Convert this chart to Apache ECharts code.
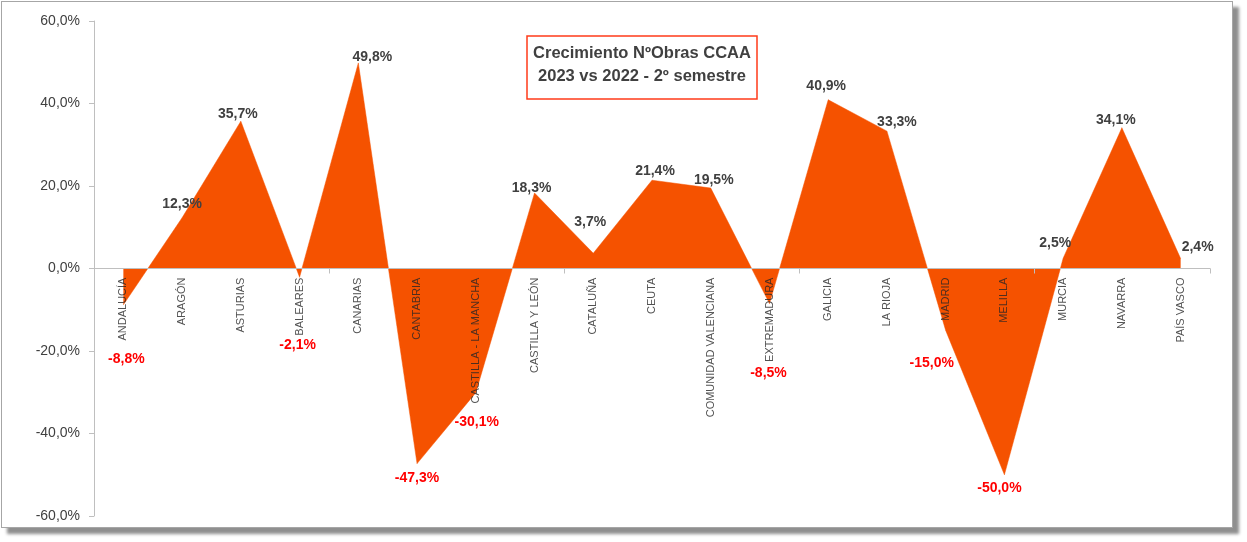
<!DOCTYPE html>
<html>
<head>
<meta charset="utf-8">
<script src="https://cdn.jsdelivr.net/npm/echarts@6/dist/echarts.min.js"></script>
<style>
  html, body { margin: 0; padding: 0; background: #fff; }
  #frame { position: absolute; left: 1px; top: 1px; width: 1230px; height: 525px; border: 1px solid #a6a6a6; background: #fff; box-shadow: 6px 6px 3px #8f8f8f; }
  #chart { position: absolute; left: 0; top: 0; width: 1247px; height: 542px; }
</style>
</head>
<body>
<div id="frame"></div>
<div id="chart"></div>
<script>
const categories = ['ANDALUCÍA','ARAGÓN','ASTURIAS','BALEARES','CANARIAS','CANTABRIA','CASTILLA - LA MANCHA','CASTILLA Y LEÓN','CATALUÑA','CEUTA','COMUNIDAD VALENCIANA','EXTREMADURA','GALICIA','LA RIOJA','MADRID','MELILLA','MURCIA','NAVARRA','PAÍS VASCO'];
const growth = [-8.8, 12.3, 35.7, -2.1, 49.8, -47.3, -30.1, 18.3, 3.7, 21.4, 19.5, -8.5, 40.9, 33.3, -15.0, -50.0, 2.5, 34.1, 2.4];
const yTicks = { min: -60, max: 60, interval: 20 };
const titleLines = ['Crecimiento NºObras CCAA', '2023 vs 2022 - 2º semestre'];

// label placement (style only), offsets in px from each point
const labelOffsets = [[3,54],[0,-14],[-3,-7],[-2,68],[14,-6],[0,15],[1,29],[-3,-5],[-3,-31],[3,-9],[3,-8],[-1,70],[-2,-14],[10,-9],[-14,33],[-5,13],[-8,-15],[-6,-8],[17,-11]];

const fmt = v => v.toFixed(1).replace('.', ',') + '%';

const chart = echarts.init(document.getElementById('chart'));
const data = growth.map((v, i) => ({
  value: v,
  label: { color: v < 0 ? '#ff0000' : '#404040' }
}));

chart.setOption({
  animation: false,
  backgroundColor: 'transparent',
  grid: { left: 94, right: 37, top: 21, bottom: 26, containLabel: false, outerBoundsMode: 'none' },
  xAxis: {
    type: 'category',
    data: categories,
    boundaryGap: true,
    axisLine: { onZero: true, lineStyle: { color: '#bfbfbf', width: 1 } },
    axisTick: { show: true, length: 5, lineStyle: { color: '#bfbfbf' } },
    axisLabel: { show: false },
    splitLine: { show: false },
    z: 5
  },
  yAxis: {
    type: 'value',
    min: yTicks.min, max: yTicks.max, interval: yTicks.interval,
    axisLine: { show: true, lineStyle: { color: '#bfbfbf' } },
    axisTick: { show: true, length: 5, lineStyle: { color: '#bfbfbf' } },
    axisLabel: { formatter: fmt, margin: 14, fontFamily: 'Liberation Sans', fontSize: 14, color: '#404040' },
    splitLine: { show: false }
  },
  series: [{
    type: 'line',
    data: data,
    symbol: 'circle',
    symbolSize: 0.5,
    showSymbol: true,
    itemStyle: { color: '#f55200' },
    lineStyle: { color: '#f55200', width: 0.5 },
    areaStyle: { color: '#f55200', opacity: 1 },
    label: {
      show: true,
      position: 'inside',
      formatter: p => fmt(p.value),
      fontFamily: 'Liberation Sans',
      fontWeight: 'bold',
      fontSize: 14
    },
    labelLayout: p => ({ dx: labelOffsets[p.dataIndex][0], dy: labelOffsets[p.dataIndex][1], hideOverlap: false }),
    z: 2
  }, {
    // category names drawn at the zero line
    type: 'scatter',
    data: categories.map(() => 0),
    symbolSize: 0.1,
    itemStyle: { color: 'rgba(0,0,0,0)' },
    silent: true,
    label: {
      show: true,
      position: 'bottom',
      distance: 9,
      rotate: 90,
      align: 'right',
      verticalAlign: 'middle',
      formatter: p => categories[p.dataIndex],
      fontFamily: 'Liberation Sans',
      fontSize: 11,
      color: '#262626'
    },
    labelLayout: { hideOverlap: false },
    z: 6
  }],
  graphic: [
    { type: 'rect', shape: { x: 527, y: 36, width: 230, height: 63 }, style: { fill: '#fff', stroke: '#ff3b1a', lineWidth: 1.5 }, z: 10 },
    { type: 'text', x: 642, y: 53, style: { text: titleLines[0], align: 'center', verticalAlign: 'middle', font: 'bold 16.5px "Liberation Sans"', fill: '#404040' }, z: 11 },
    { type: 'text', x: 642, y: 76, style: { text: titleLines[1], align: 'center', verticalAlign: 'middle', font: 'bold 16.5px "Liberation Sans"', fill: '#404040' }, z: 11 }
  ]
});
</script>
</body>
</html>
